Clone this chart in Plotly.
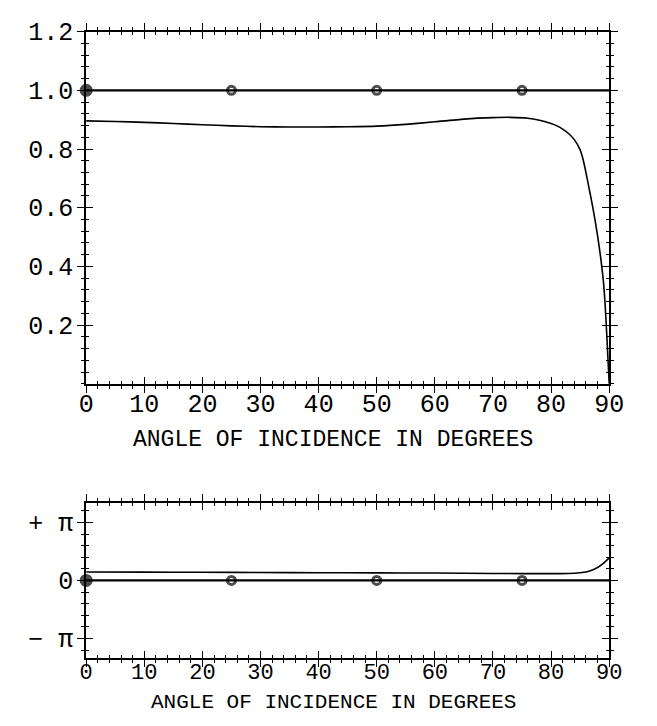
import math
import plotly.graph_objects as go

# ---------------- data ----------------
angle_amp = [0, 5, 10, 15, 20, 25, 30, 35, 40, 45, 50, 55, 60, 65, 70, 73, 76, 78,
             80, 81, 82, 83, 84, 85, 85.5, 86, 86.5, 87, 87.5, 88, 88.5, 89, 89.3, 89.6, 90]
amp = [0.896, 0.894, 0.891, 0.887, 0.883, 0.879, 0.876, 0.875, 0.875, 0.876, 0.878,
       0.884, 0.893, 0.902, 0.907, 0.908, 0.905, 0.898, 0.887, 0.879, 0.868, 0.853,
       0.832, 0.797, 0.765, 0.72, 0.67, 0.62, 0.565, 0.505, 0.435, 0.35, 0.27, 0.16, 0.0]

angle_ph = [0, 10, 20, 30, 40, 50, 60, 70, 75, 80, 83, 85, 86, 87, 88, 89, 90]
phase = [0.46, 0.45, 0.44, 0.43, 0.42, 0.41, 0.40, 0.38, 0.37, 0.37, 0.38, 0.42,
         0.46, 0.55, 0.70, 0.92, 1.22]

ref_line_x = [0, 90]
ref_amp_line = [1.0, 1.0]
ref_ph_line = [0.0, 0.0]
marker_angles = [0, 25, 50, 75]
marker_amp = [1.0, 1.0, 1.0, 1.0]
marker_ph = [0.0, 0.0, 0.0, 0.0]

x_ticks = [0, 10, 20, 30, 40, 50, 60, 70, 80, 90]
x_ticklabels = ["0", "10", "20", "30", "40", "50", "60", "70", "80", "90"]
amp_ticks = [0.2, 0.4, 0.6, 0.8, 1.0, 1.2]
amp_ticklabels = ["0.2", "0.4", "0.6", "0.8", "1.0", "1.2"]
ph_ticks = [-math.pi, 0, math.pi]
ph_ticklabels = ["− π", "0", "+ π"]
x_title = "ANGLE OF INCIDENCE IN DEGREES"

# ---------------- figure ----------------
W, H = 657, 726
FONT = "Liberation Mono"
BLACK = "#000000"

def px_x(p):
    return p / W

def px_y(p):
    return 1 - p / H

top_dom = [px_y(378), px_y(20)]
bot_dom = [px_y(657), px_y(499)]
x_dom = [px_x(81), px_x(623)]

fig = go.Figure()

marker_style = dict(symbol=["circle", "circle-open", "circle-open", "circle-open"], size=[10, 8, 8, 8],
                    color=BLACK, line=dict(color=BLACK, width=3))

# top panel
fig.add_trace(go.Scatter(x=angle_amp, y=amp, mode="lines", line=dict(color=BLACK, width=1.6, shape="spline", smoothing=0.5),
                         xaxis="x", yaxis="y", cliponaxis=False, showlegend=False))
fig.add_trace(go.Scatter(x=ref_line_x, y=ref_amp_line, mode="lines", line=dict(color=BLACK, width=2.2),
                         xaxis="x", yaxis="y", cliponaxis=False, showlegend=False))
fig.add_trace(go.Scatter(x=marker_angles, y=marker_amp, mode="markers", marker=marker_style,
                         xaxis="x", yaxis="y", cliponaxis=False, showlegend=False))

# bottom panel
fig.add_trace(go.Scatter(x=angle_ph, y=phase, mode="lines", line=dict(color=BLACK, width=1.6, shape="spline", smoothing=0.5),
                         xaxis="x2", yaxis="y2", cliponaxis=False, showlegend=False))
fig.add_trace(go.Scatter(x=ref_line_x, y=ref_ph_line, mode="lines", line=dict(color=BLACK, width=2.2),
                         xaxis="x2", yaxis="y2", cliponaxis=False, showlegend=False))
fig.add_trace(go.Scatter(x=marker_angles, y=marker_ph, mode="markers", marker=marker_style,
                         xaxis="x2", yaxis="y2", cliponaxis=False, showlegend=False))

# empty traces to host the overlay axes that give crossing ticks
for xa, ya in [("x3", "y3"), ("x4", "y4")]:
    fig.add_trace(go.Scatter(x=[], y=[], xaxis=xa, yaxis=ya, showlegend=False, hoverinfo="skip"))

tickfont = dict(family=FONT, size=25, color=BLACK)

def xaxis_cfg(anchor, labels, ticks):
    return dict(domain=x_dom, anchor=anchor, range=[0, 90], showgrid=False, zeroline=False,
                showline=True, linecolor=BLACK, linewidth=2, mirror="ticks",
                ticks=ticks, ticklen=7, tickwidth=1.4, tickcolor=BLACK,
                tickvals=x_ticks, ticktext=x_ticklabels, showticklabels=labels,
                tickfont=tickfont,
                minor=dict(ticks=ticks, ticklen=3, tickwidth=1.2, tickcolor=BLACK, tick0=0, dtick=2))

def yaxis_amp_cfg(anchor, labels, ticks):
    return dict(domain=top_dom, anchor=anchor, range=[0, 1.2], showgrid=False, zeroline=False,
                showline=True, linecolor=BLACK, linewidth=2, mirror="ticks",
                ticks=ticks, ticklen=7, tickwidth=1.4, tickcolor=BLACK,
                tickvals=amp_ticks, ticktext=amp_ticklabels, showticklabels=labels,
                tickfont=tickfont,
                minor=dict(ticks=ticks, ticklen=3, tickwidth=1.2, tickcolor=BLACK, tick0=0, dtick=0.04))

ph_half = 1.339 * math.pi

def yaxis_ph_cfg(anchor, labels, ticks):
    return dict(domain=bot_dom, anchor=anchor, range=[-ph_half, ph_half], showgrid=False, zeroline=False,
                showline=True, linecolor=BLACK, linewidth=2, mirror="ticks",
                ticks=ticks, ticklen=7, tickwidth=1.4, tickcolor=BLACK,
                tickvals=ph_ticks, ticktext=ph_ticklabels, showticklabels=labels,
                tickfont=tickfont,
                minor=dict(ticks=ticks, ticklen=3, tickwidth=1.2, tickcolor=BLACK, tick0=0, dtick=math.pi / 5))

xa = xaxis_cfg("y", True, "inside")
xa["ticklabelstandoff"] = -4
fig.update_layout(xaxis=xa)
xb = xaxis_cfg("y2", True, "inside")
xb["ticklabelstandoff"] = -8
xb["tickfont"] = dict(family=FONT, size=22, color=BLACK)
fig.update_layout(xaxis2=xb)
ya1 = yaxis_amp_cfg("x", True, "inside")
ya1["ticklabelstandoff"] = 6
fig.update_layout(yaxis=ya1)
ya2 = yaxis_ph_cfg("x2", True, "inside")
ya2["ticklabelstandoff"] = 6
fig.update_layout(yaxis2=ya2)

x3 = xaxis_cfg("y3", False, "outside"); x3["overlaying"] = "x"
y3 = yaxis_amp_cfg("x3", False, "outside"); y3["overlaying"] = "y"
x4 = xaxis_cfg("y4", False, "outside"); x4["overlaying"] = "x2"
y4 = yaxis_ph_cfg("x4", False, "outside"); y4["overlaying"] = "y2"
fig.update_layout(xaxis3=x3, yaxis3=y3, xaxis4=x4, yaxis4=y4)

fig.add_annotation(text=x_title, x=337 / W, y=px_y(435), xref="paper", yref="paper",
                   showarrow=False, font=dict(family=FONT, size=23, color=BLACK),
                   xanchor="center", yanchor="middle")
fig.add_annotation(text=x_title, x=337 / W, y=px_y(702), xref="paper", yref="paper",
                   showarrow=False, font=dict(family=FONT, size=21, color=BLACK),
                   xanchor="center", yanchor="middle")

fig.update_layout(width=W, height=H, margin=dict(l=0, r=0, t=0, b=0),
                  paper_bgcolor="white", plot_bgcolor="white", showlegend=False,
                  font=dict(family=FONT, color=BLACK))

fig.write_html("out.html")
